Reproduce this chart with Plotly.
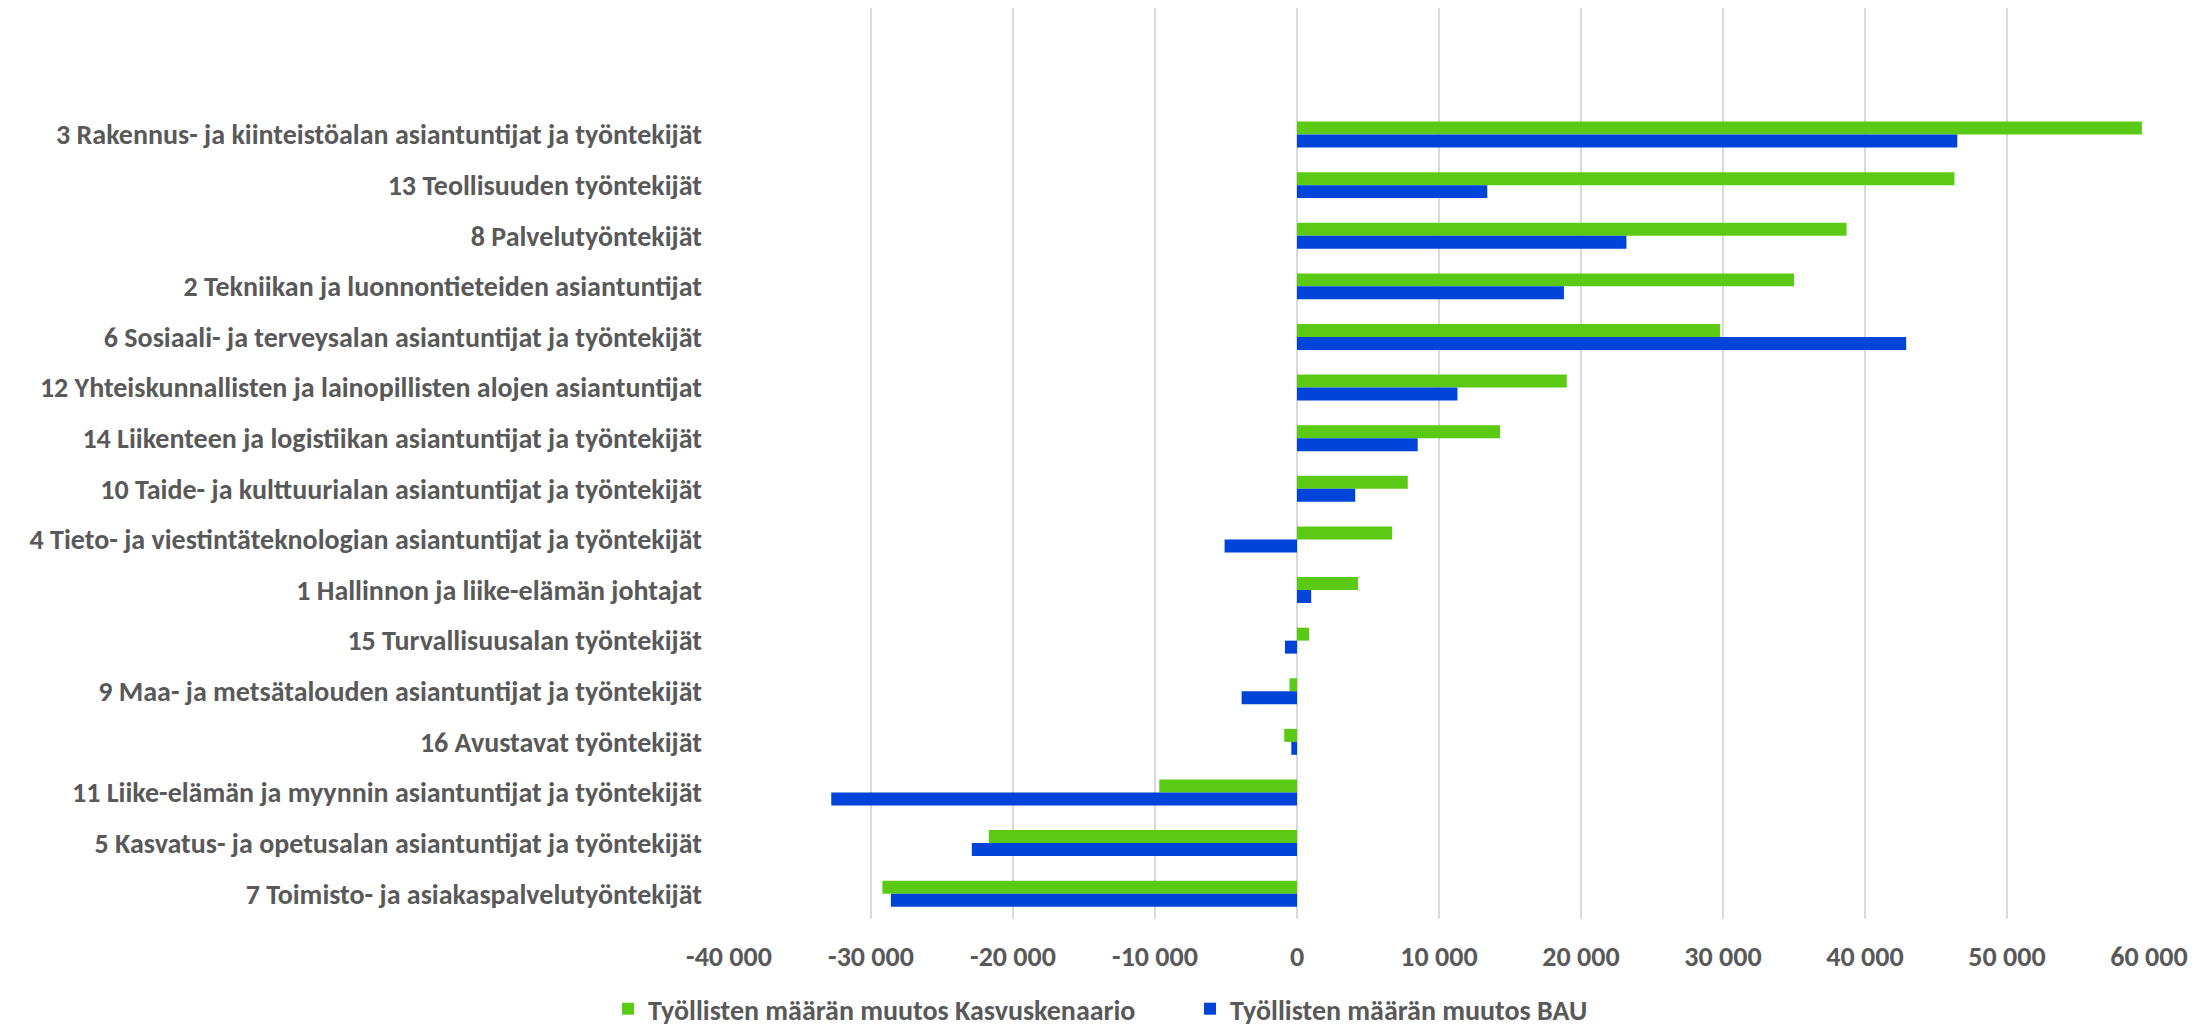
import plotly.graph_objects as go

categories = [
    "3 Rakennus- ja kiinteistöalan asiantuntijat ja työntekijät",
    "13 Teollisuuden työntekijät",
    "8 Palvelutyöntekijät",
    "2 Tekniikan ja luonnontieteiden asiantuntijat",
    "6 Sosiaali- ja terveysalan asiantuntijat ja työntekijät",
    "12 Yhteiskunnallisten ja lainopillisten alojen asiantuntijat",
    "14 Liikenteen ja logistiikan asiantuntijat ja työntekijät",
    "10 Taide- ja kulttuurialan asiantuntijat ja työntekijät",
    "4 Tieto- ja viestintäteknologian asiantuntijat ja työntekijät",
    "1 Hallinnon ja liike-elämän johtajat",
    "15 Turvallisuusalan työntekijät",
    "9 Maa- ja metsätalouden asiantuntijat ja työntekijät",
    "16 Avustavat työntekijät",
    "11 Liike-elämän ja myynnin asiantuntijat ja työntekijät",
    "5 Kasvatus- ja opetusalan asiantuntijat ja työntekijät",
    "7 Toimisto- ja asiakaspalvelutyöntekijät",
]

kasvu = [59500, 46300, 38700, 35000, 29800, 19000, 14300, 7800, 6700, 4300,
         850, -530, -900, -9700, -21700, -29200]
bau = [46500, 13400, 23200, 18800, 42900, 11300, 8500, 4100, -5100, 1000,
       -850, -3900, -400, -32800, -22900, -28600]

series_names = ["Työllisten määrän muutos Kasvuskenaario", "Työllisten määrän muutos BAU"]

x_tickvals = [-40000, -30000, -20000, -10000, 0, 10000, 20000, 30000, 40000, 50000, 60000]
x_ticktext = ["-40 000", "-30 000", "-20 000", "-10 000", "0", "10 000", "20 000",
              "30 000", "40 000", "50 000", "60 000"]

FONT = "Carlito, Calibri, Lato, sans-serif"
TXT = "#595959"
FS = 28

fig = go.Figure()
fig.add_trace(go.Bar(y=categories, x=kasvu, name=series_names[0], orientation="h",
                     marker=dict(color="#5BCA15", line=dict(width=0))))
fig.add_trace(go.Bar(y=categories, x=bau, name=series_names[1], orientation="h",
                     marker=dict(color="#0044DA", line=dict(width=0))))

fig.update_layout(
    width=2206, height=1026,
    margin=dict(l=721, r=65, t=0, b=115),
    paper_bgcolor="white", plot_bgcolor="white",
    barmode="group", bargap=0.487, bargroupgap=0,
    font=dict(family=FONT, size=FS, color=TXT),
    showlegend=True,
    legend=dict(orientation="h", xref="container", yref="container",
                x=0.272, xanchor="left", y=0.0, yanchor="bottom",
                font=dict(family=FONT, size=FS, color=TXT, weight="bold"),
                itemwidth=30, entrywidth=537, entrywidthmode="pixels",
                tracegroupgap=0),
)

fig.update_xaxes(
    range=[-40000, 60000], tickvals=x_tickvals, ticktext=x_ticktext,
    showgrid=True, gridcolor="#D9D9D9", gridwidth=1.5,
    zeroline=True, zerolinecolor="#D9D9D9", zerolinewidth=1.5,
    showline=False, ticks="", ticklabelstandoff=18,
    tickfont=dict(family=FONT, size=FS, color=TXT, weight="bold"),
)
fig.update_yaxes(
    type="category", categoryorder="array", categoryarray=categories,
    range=[15.5, -2.5], showgrid=False, zeroline=False, showline=False,
    ticks="", ticklabelstandoff=26,
    tickfont=dict(family=FONT, size=FS, color=TXT, weight="bold"),
)

fig.write_html("out.html")
